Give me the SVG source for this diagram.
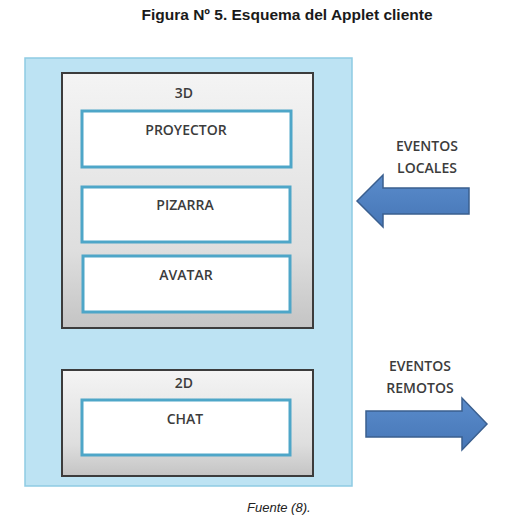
<svg xmlns="http://www.w3.org/2000/svg" width="522" height="522" viewBox="0 0 522 522">
<defs>
<linearGradient id="gray" x1="0" y1="0" x2="0" y2="1">
<stop offset="0" stop-color="#f4f4f4"/>
<stop offset="0.7" stop-color="#dedede"/>
<stop offset="1" stop-color="#c4c4c4"/>
</linearGradient>
<linearGradient id="arrowG" x1="0" y1="0" x2="0" y2="1">
<stop offset="0" stop-color="#5a8ccc"/>
<stop offset="1" stop-color="#4676b6"/>
</linearGradient>
</defs>
<style>
.title{font-family:"Liberation Sans",Arial,sans-serif;font-weight:bold;font-size:15.5px;fill:#1a1a1a}
.src{font-family:"Liberation Sans",Arial,sans-serif;font-style:italic;font-size:13px;fill:#222}
.lbl{font-family:"Open Sans","Liberation Sans",sans-serif;font-weight:600;font-size:14px;fill:#3c3c3c;text-anchor:middle}
.outer{fill:#bde3f3;stroke:#8fcbe3;stroke-width:1.5}
.grp{fill:url(#gray);stroke:#3c3c3c;stroke-width:2}
.comp{fill:#ffffff;stroke:#4ea6c8;stroke-width:3}
.arrow{fill:url(#arrowG);stroke:#3a5f8f;stroke-width:1.5;stroke-linejoin:miter}
</style>
<rect width="522" height="522" fill="#ffffff"/>
<text class="title" x="287" y="20" text-anchor="middle">Figura Nº 5. Esquema del Applet cliente</text>
<g id="applet">
<rect class="outer" x="25" y="58" width="327" height="428"/>
</g>
<g id="grupo3d">
<rect class="grp" x="62" y="73" width="251" height="255"/>
<text class="lbl" x="184" y="98">3D</text>
</g>
<g id="proyector">
<rect class="comp" x="82" y="111" width="209" height="56"/>
<text class="lbl" x="186" y="135">PROYECTOR</text>
</g>
<g id="pizarra">
<rect class="comp" x="82" y="187" width="208" height="55"/>
<text class="lbl" x="185" y="210">PIZARRA</text>
</g>
<g id="avatar">
<rect class="comp" x="83" y="256" width="207" height="56"/>
<text class="lbl" x="186" y="280">AVATAR</text>
</g>
<g id="grupo2d">
<rect class="grp" x="62" y="370" width="251" height="106"/>
<text class="lbl" x="184" y="388">2D</text>
</g>
<g id="chat">
<rect class="comp" x="82" y="400" width="208" height="55"/>
<text class="lbl" x="185" y="424">CHAT</text>
</g>
<g id="eventos-locales">
<text class="lbl" x="427" y="151">EVENTOS</text>
<text class="lbl" x="427" y="173">LOCALES</text>
</g>
<g id="eventos-remotos">
<text class="lbl" x="420" y="371">EVENTOS</text>
<text class="lbl" x="420" y="393">REMOTOS</text>
</g>
<g id="connectors">
<path class="arrow" d="M357,201 L383,175 L383,188 L469,188 L469,214 L383,214 L383,227 Z"/>
<path class="arrow" d="M487,424 L462,398 L462,411 L366,411 L366,437 L462,437 L462,450 Z"/>
</g>
<text class="src" x="247" y="512">Fuente (8).</text>
</svg>
